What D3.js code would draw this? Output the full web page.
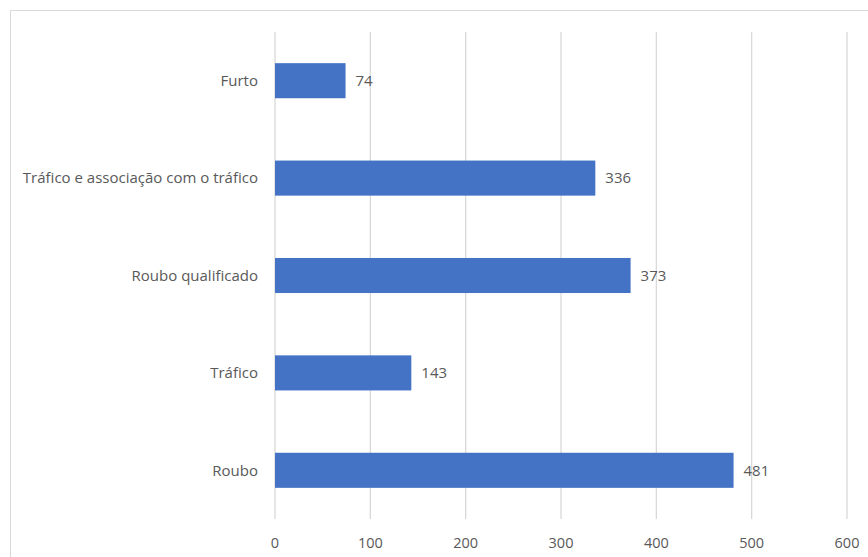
<!DOCTYPE html>
<html>
<head>
<meta charset="utf-8">
<script src="https://cdn.jsdelivr.net/npm/d3@7"></script>
<style>
  body { margin: 0; background: #fff; }
  text { font-family: "Open Sans", sans-serif; fill: #595959; }
</style>
</head>
<body>
<svg id="chart" width="868" height="557"></svg>
<script>
const categories = ["Furto", "Tráfico e associação com o tráfico", "Roubo qualificado", "Tráfico", "Roubo"];
const values = [74, 336, 373, 143, 481];
const xTicks = [0, 100, 200, 300, 400, 500, 600];

const svg = d3.select("#chart");

// chart area border (runs off the right and bottom edges)
svg.append("rect")
  .attr("x", 10.5).attr("y", 10.5)
  .attr("width", 900).attr("height", 600)
  .attr("fill", "none")
  .attr("stroke", "#d9d9d9");

const x = d3.scaleLinear().domain([0, 600]).range([275, 847]);
const y = d3.scaleBand().domain(categories).range([32, 519]).paddingInner(0.64).paddingOuter(0.32);

// gridlines
svg.append("g").selectAll("line")
  .data(xTicks)
  .enter().append("line")
  .attr("x1", d => x(d)).attr("x2", d => x(d))
  .attr("y1", 32).attr("y2", 519)
  .attr("stroke", "#d9d9d9")
  .attr("stroke-width", 1.3);

// x tick labels
svg.append("g").selectAll("text")
  .data(xTicks)
  .enter().append("text")
  .attr("x", d => x(d))
  .attr("y", 543)
  .attr("dy", "0.35em")
  .attr("text-anchor", "middle")
  .style("font-size", "14.5px")
  .text(d => d);

const data = categories.map((c, i) => ({ name: c, value: values[i] }));

// bars
svg.append("g").selectAll("rect")
  .data(data)
  .enter().append("rect")
  .attr("x", x(0))
  .attr("y", d => y(d.name))
  .attr("width", d => x(d.value) - x(0))
  .attr("height", y.bandwidth())
  .attr("fill", "#4472c4");

// category labels
svg.append("g").selectAll("text")
  .data(data)
  .enter().append("text")
  .attr("x", x(0) - 17)
  .attr("y", d => y(d.name) + y.bandwidth() / 2)
  .attr("dy", "0.35em")
  .attr("text-anchor", "end")
  .style("font-size", "15px")
  .text(d => d.name);

// value labels
svg.append("g").selectAll("text")
  .data(data)
  .enter().append("text")
  .attr("x", d => x(d.value) + 10)
  .attr("y", d => y(d.name) + y.bandwidth() / 2)
  .attr("dy", "0.35em")
  .style("font-size", "15px")
  .text(d => d.value);
</script>
</body>
</html>
